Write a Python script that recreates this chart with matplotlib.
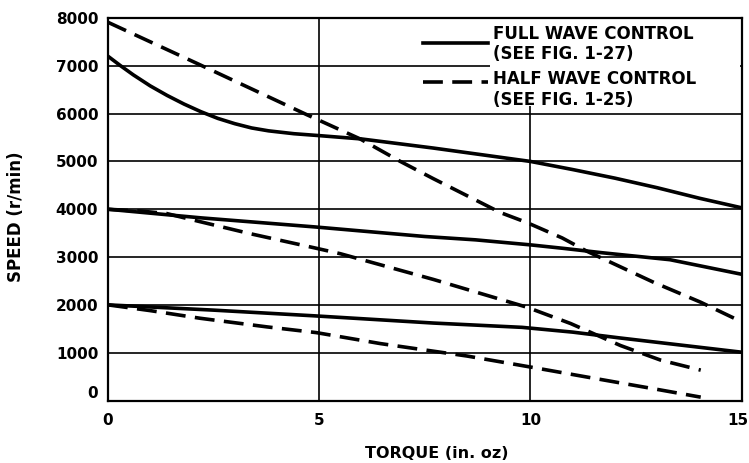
import matplotlib
matplotlib.use("Agg")
import matplotlib.pyplot as plt
from matplotlib.patches import Rectangle
from matplotlib.transforms import ScaledTranslation

plt.rcParams['font.family'] = ['DejaVu Sans']
plt.rcParams['font.weight'] = 'bold'

# ---- data (torque in in.oz, speed in r/min) ----
full_top_t = [0, 0.3, 0.6, 1.0, 1.4, 1.8, 2.2, 2.6, 3.0, 3.4, 3.8, 4.4, 5.0, 6.0, 7.7, 10.0, 11.0, 12.0, 13.0, 14.0, 15.0]
full_top_v = [7200, 7000, 6810, 6580, 6380, 6200, 6040, 5900, 5790, 5700, 5640, 5580, 5540, 5470, 5280, 5000, 4830, 4650, 4450, 4230, 4030]

full_mid_t = [0, 2.2, 4.9, 7.5, 8.7, 10.0, 10.8, 11.7, 13.3, 15.0]
full_mid_v = [4000, 3820, 3630, 3430, 3360, 3255, 3180, 3090, 2945, 2640]

full_bot_t = [0, 2.5, 4.9, 7.7, 9.8, 11.0, 12.1, 15.0]
full_bot_v = [2000, 1890, 1770, 1620, 1530, 1430, 1310, 1010]

half_top_t = [0, 2.18, 4.7, 5.97, 6.92, 7.7, 9.29, 9.92, 10.75, 11.34, 12.92, 14.03, 15.0]
half_top_v = [7910, 7020, 5980, 5470, 5000, 4640, 3930, 3720, 3400, 3120, 2470, 2055, 1645]

half_mid_t = [0, 0.8, 1.39, 2.18, 3.36, 4.9, 5.5, 7.71, 9.92, 10.95, 12.13, 13.08, 14.03]
half_mid_v = [4000, 3960, 3910, 3740, 3490, 3190, 3070, 2530, 1950, 1610, 1150, 845, 635]

half_bot_t = [0, 1.0, 2.18, 3.76, 4.93, 6.45, 8.5, 10.0, 11.34, 12.92, 14.03]
half_bot_v = [2000, 1880, 1720, 1540, 1420, 1190, 930, 700, 490, 245, 70]

x_ticks = [0, 5, 10, 15]
y_ticks = [0, 1000, 2000, 3000, 4000, 5000, 6000, 7000, 8000]

full_label = "FULL WAVE CONTROL\n(SEE FIG. 1-27)"
half_label = "HALF WAVE CONTROL\n(SEE FIG. 1-25)"

# ---- figure ----
fig = plt.figure(figsize=(7.49, 4.63), dpi=100)
ax = fig.add_axes([108/749, 1 - 400.5/463, (741.7-108)/749, (400.5-18)/463])

lw = 2.6
dash = (5.5, 2.6)
l_full, = ax.plot(full_top_t, full_top_v, color='black', lw=lw, zorder=3, label=full_label)
ax.plot(full_mid_t, full_mid_v, color='black', lw=lw, zorder=3)
ax.plot(full_bot_t, full_bot_v, color='black', lw=lw, zorder=3)
l_half, = ax.plot(half_top_t, half_top_v, color='black', lw=lw, dashes=dash, zorder=3, label=half_label)
ax.plot(half_mid_t, half_mid_v, color='black', lw=lw, dashes=dash, zorder=3)
ax.plot(half_bot_t, half_bot_v, color='black', lw=lw, dashes=dash, zorder=3)

ax.set_xlim(0, 15)
ax.set_ylim(0, 8000)
ax.set_xticks(x_ticks)
ax.set_xticklabels([str(v) for v in x_ticks])
ax.set_yticks(y_ticks)
ax.set_yticklabels([str(v) for v in y_ticks])
ax.tick_params(length=0, labelsize=11, pad=7)
ax.tick_params(axis='x', pad=9)
for lab in ax.get_xticklabels() + ax.get_yticklabels():
    lab.set_fontweight('bold')
# lift the "0" speed label slightly, and keep "15" inside the figure, as in the original
ylab0 = ax.get_yticklabels()[0]
ylab0.set_transform(ylab0.get_transform() + ScaledTranslation(0, 9/100, fig.dpi_scale_trans))
xlab15 = ax.get_xticklabels()[-1]
xlab15.set_transform(xlab15.get_transform() + ScaledTranslation(-4/100, 0, fig.dpi_scale_trans))

ax.set_axisbelow(True)
ax.grid(True, color='black', lw=1.2)
for s in ax.spines.values():
    s.set_linewidth(1.6)

ax.set_xlabel("TORQUE (in. oz)", fontsize=11.5, fontweight='bold')
ax.set_ylabel("SPEED (r/min)", fontsize=12, fontweight='bold')
ax.xaxis.set_label_coords(0.518, -0.12)
ax.yaxis.set_label_coords(-0.131, 0.48)

# white area behind legend text
ax.add_patch(Rectangle((0.603, 0.77), 0.394, 0.227, transform=ax.transAxes,
                       facecolor='white', edgecolor='none', zorder=1))

leg = ax.legend(handles=[l_full, l_half], loc='upper left', bbox_to_anchor=(0.497, 0.983),
                frameon=False, borderpad=0, borderaxespad=0, handlelength=3.9,
                handletextpad=0.3, labelspacing=0.4,
                prop={'size': 12, 'weight': 'bold'})
for t in leg.get_texts():
    t.set_linespacing(1.2)
# the original draws the dashed sample level with the first text line
h_full, h_half = leg.legend_handles
h_full.set_ydata([y + 1.2 for y in h_full.get_ydata()])
h_half.set_ydata([y + 6.0 for y in h_half.get_ydata()])

fig.savefig("out.png", dpi=100)
